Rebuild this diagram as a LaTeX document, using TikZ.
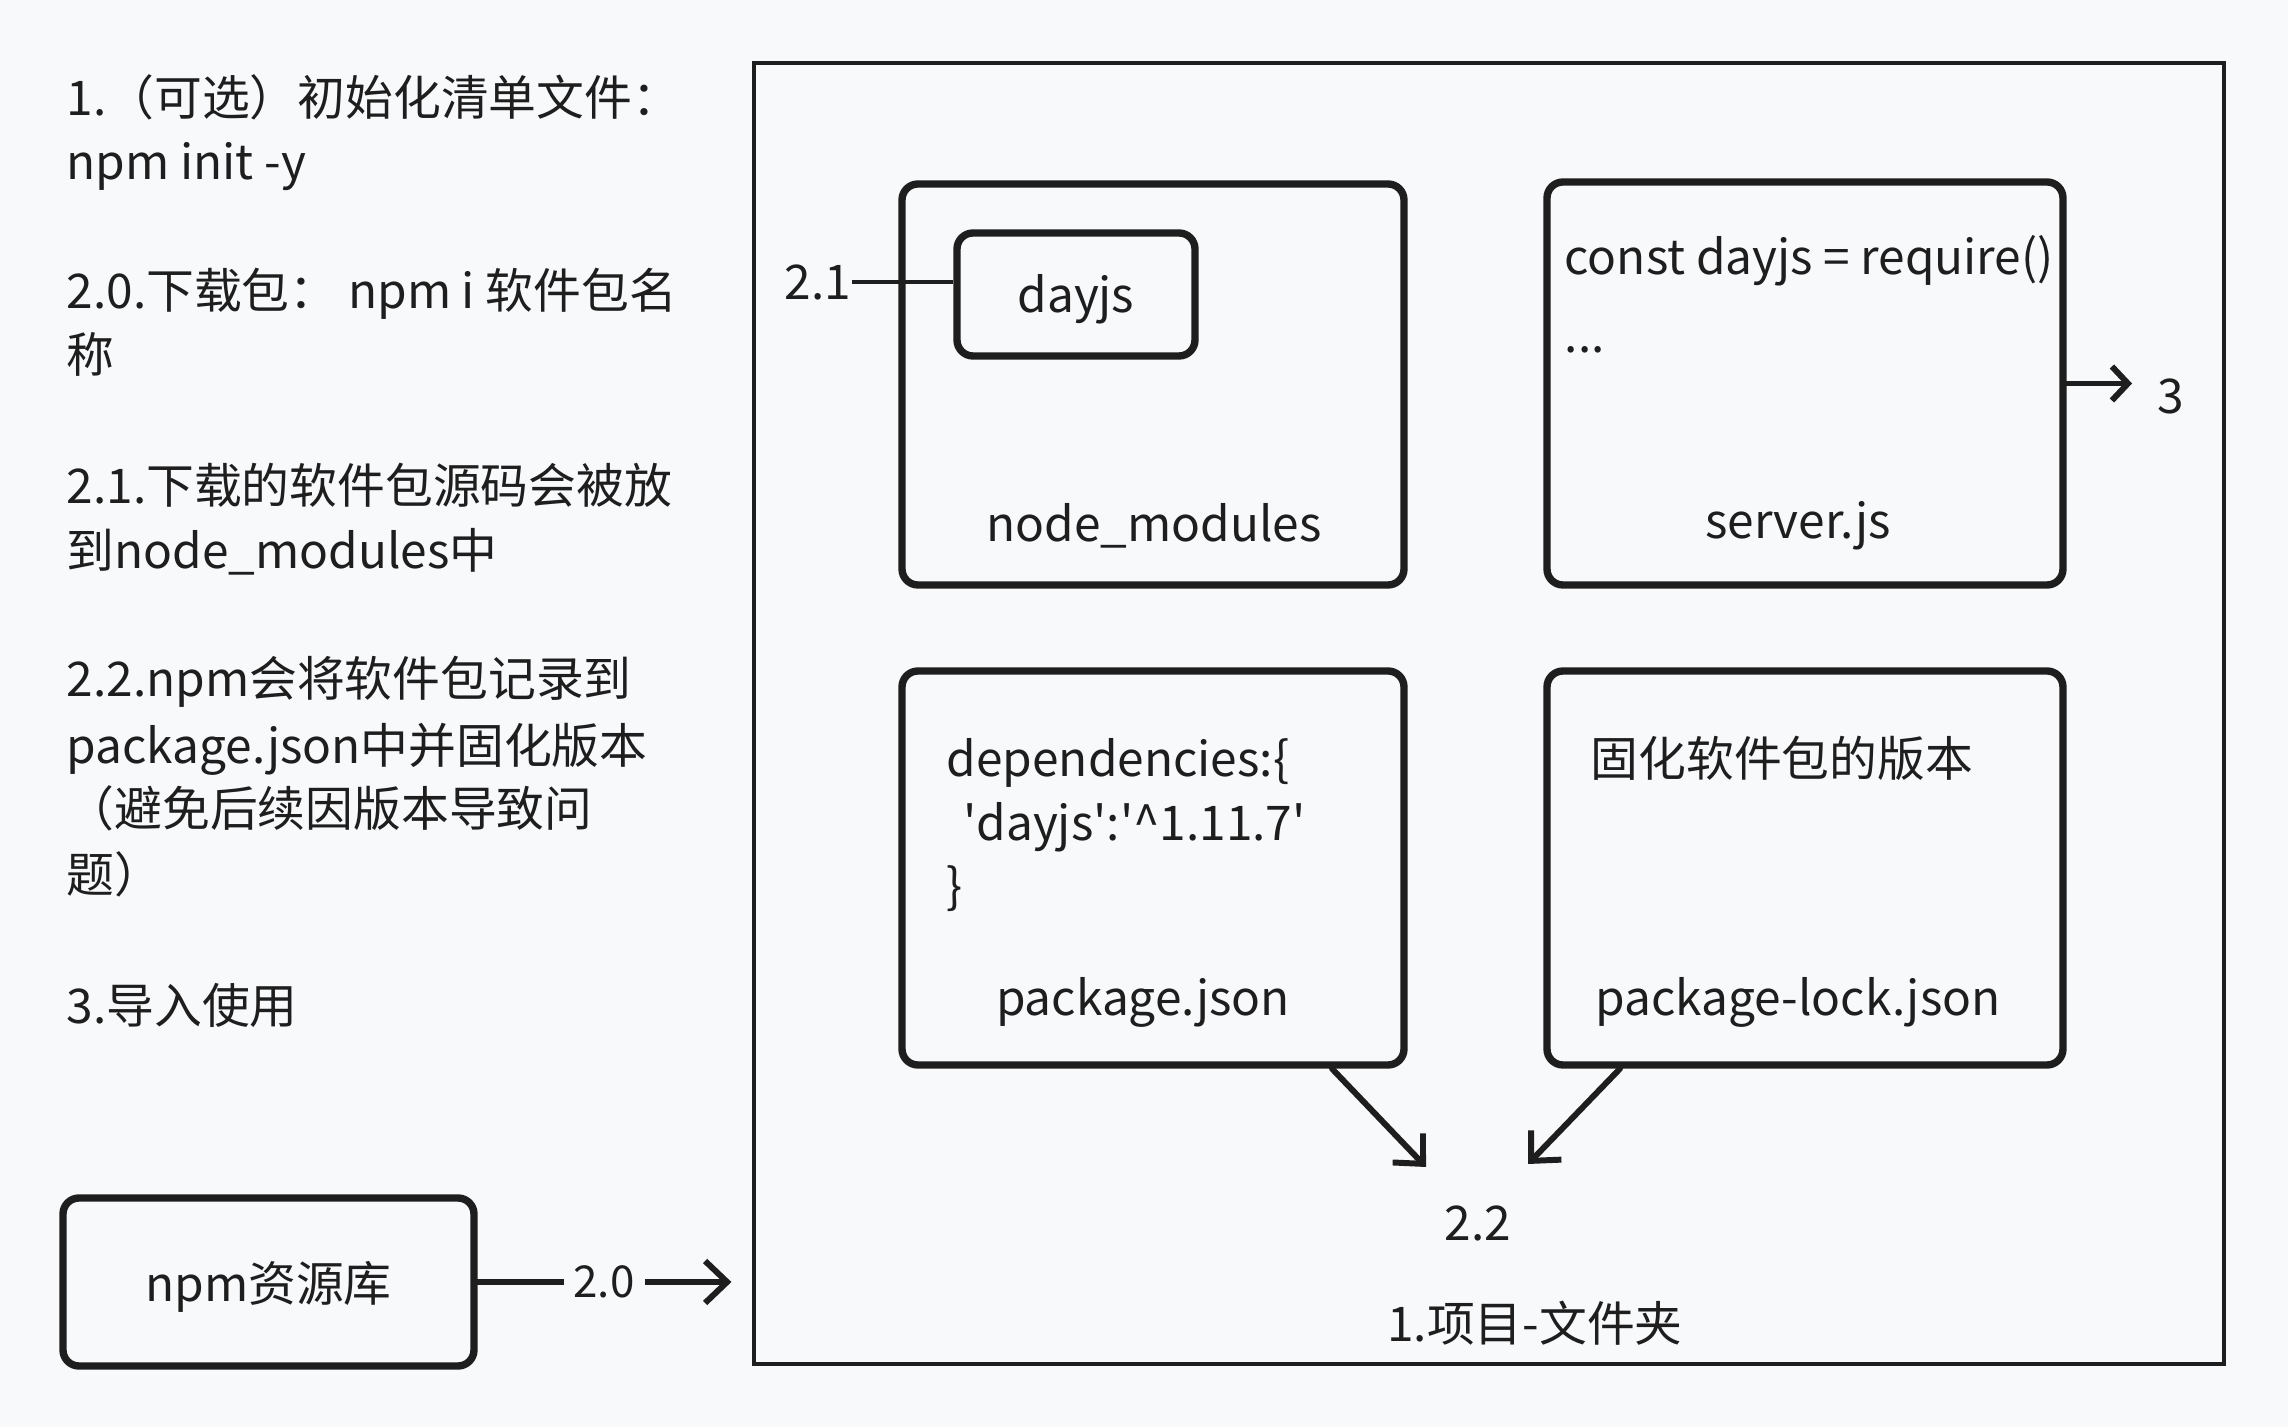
\documentclass[tikz,border=0pt]{standalone}
\usepackage{fontspec}
\setmainfont{Noto Sans CJK SC}
\usetikzlibrary{arrows.meta,positioning}
\definecolor{ink}{HTML}{1E1E1E}
\definecolor{paper}{HTML}{F8F9FB}
\tikzset{
    box/.style={draw=ink, line width=2.1pt, rounded corners=0.16cm, inner sep=0pt},
    arr/.style={draw=ink, line width=1.7pt, line cap=round, -{Straight Barb[length=2.2mm,width=4.2mm]}},
    txt/.style={text=ink, inner sep=0pt, yshift=-0.05cm, font=\fontsize{13.6pt}{18pt}\selectfont},
    note/.style={txt, anchor=west, text height=0.34cm, text depth=0.1cm},
}
\begin{document}
\begin{tikzpicture}

    % Page
    \fill[paper] (0,0) rectangle (22.88,-14.27);
    \useasboundingbox (0,0) rectangle (22.88,-14.27);

    % Steps on the left
    \foreach \y/\txt [count=\i] in {
        0.99/{1.（可选）初始化清单文件：},
        1.63/{npm init -y},
        2.92/{2.0.下载包： npm i 软件包名},
        3.56/{称},
        4.87/{2.1.下载的软件包源码会被放},
        5.52/{到node\_modules中},
        6.80/{2.2.npm会将软件包记录到},
        7.47/{package.json中并固化版本},
        8.10/{（避免后续因版本导致问},
        8.76/{题）},
        10.07/{3.导入使用}
    }
        \node[note] (step\i) at (0.66,-\y) {\txt};

    % Project folder
    \node[draw=ink, line width=0.9pt, minimum width=14.70cm, minimum height=13.01cm, inner sep=0pt] (proj) at (14.89,-7.135) {};
    \node[txt] (projlbl) at (15.35,-13.18) {1.项目-文件夹};

    % node_modules with dayjs inside
    \node[box, minimum width=5.02cm, minimum height=4.01cm] (mods) at (11.53,-3.845) {};
    \node[box, minimum width=2.38cm, minimum height=1.23cm] (dayjs) at (10.76,-2.945) {};
    \node[txt] (dayjslbl) at (dayjs) {dayjs};
    \node[txt] (modslbl) at (11.54,-5.21) {node\_modules};
    \node[txt] (l21) at (8.18,-2.77) {2.1};
    \draw[ink, line width=0.9pt] (l21.east) -- (l21.east -| dayjs.west);

    % server.js
    \node[box, minimum width=5.16cm, minimum height=4.03cm] (server) at (18.05,-3.835) {};
    \node[note] (code1) at (15.64,-2.58) {const dayjs = require()};
    \node[note] (code2) at (15.64,-3.36) {...};
    \node[txt] (serverlbl) at (17.98,-5.21) {server.js};
    \node[txt] (l3) at (21.71,-3.91) {3};
    \draw[arr, -{Straight Barb[length=1.6mm,width=3.4mm]}, shorten >=0.25cm] (server.east) -- (server.east -| l3.west);

    % package.json
    \node[box, minimum width=5.02cm, minimum height=3.94cm] (pkg) at (11.53,-8.68) {};
    \foreach \y/\txt [count=\i] in {
        7.60/{dependencies:\{},
        8.24/{\hspace{0.17cm}\textquotesingle dayjs\textquotesingle:\textquotesingle\textasciicircum 1.11.7\textquotesingle},
        8.87/{\}}
    }
        \node[note] (dep\i) at (9.46,-\y) {\txt};
    \node[txt] (pkglbl) at (11.43,-9.97) {package.json};

    % package-lock.json
    \node[box, minimum width=5.16cm, minimum height=3.94cm] (lock) at (18.05,-8.68) {};
    \node[note] (locknote) at (15.90,-7.60) {固化软件包的版本};
    \node[txt] (locklbl) at (17.98,-9.97) {package-lock.json};

    % Both files record the version (2.2)
    \node[txt] (l22) at (14.78,-12.18) {2.2};
    \coordinate (tipa) at (14.26,-11.67);
    \coordinate (tipb) at (15.28,-11.64);
    \draw[arr] ([xshift=1.79cm]pkg.south) -- (tipa);
    \draw[arr] ([xshift=-1.85cm]lock.south) -- (tipb);

    % npm registry
    \node[box, minimum width=4.11cm, minimum height=1.68cm] (repo) at (2.685,-12.82) {};
    \node[txt] (repolbl) at (repo) {npm资源库};
    \draw[arr, shorten >=0.21cm] (repo.east) -- node[pos=0.46, txt, yshift=0.05cm, fill=paper, inner xsep=0.1cm, font=\fontsize{12.5pt}{15pt}\selectfont] (l20) {2.0} (repo.east -| proj.west);

\end{tikzpicture}
\end{document}
